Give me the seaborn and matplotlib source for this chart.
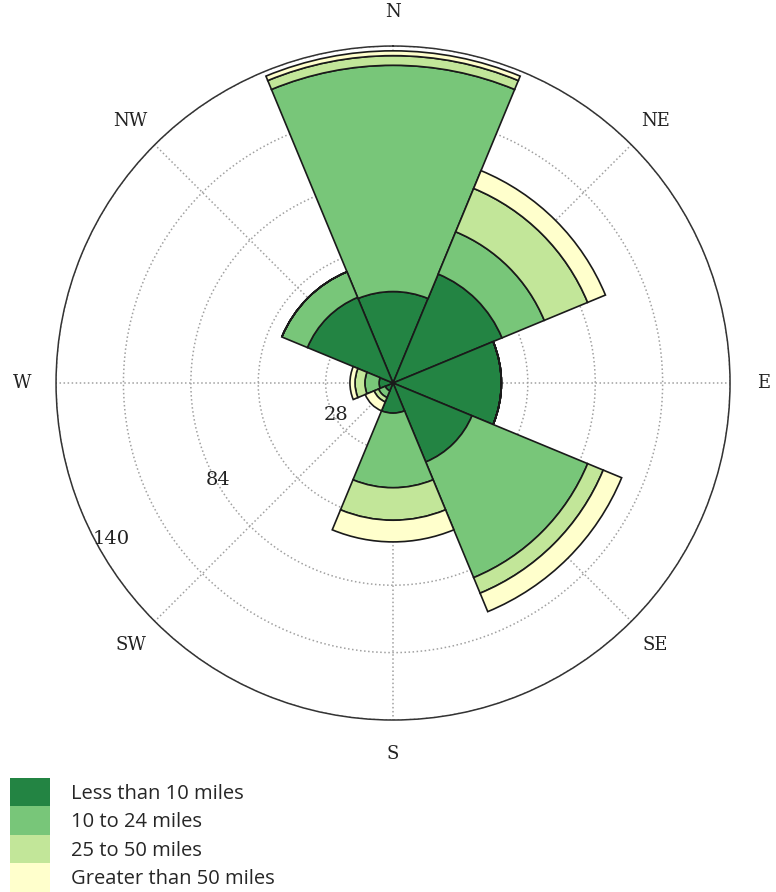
import numpy as np
import matplotlib
matplotlib.use('Agg')
import matplotlib.pyplot as plt
import seaborn as sns
from matplotlib.patches import Patch

# wind rose values (stack order: inner -> outer)
directions = ['N', 'NE', 'E', 'SE', 'S', 'SW', 'W', 'NW']
less_10 = [38, 49, 45, 35.5, 12.5, 3.5, 5.8, 38.5]
from_10_24 = [94, 19, 0, 52, 31, 3, 5.9, 11.5]
from_25_50 = [4, 19.5, 0, 7, 13.5, 2, 4.1, 0]
over_50 = [2, 8, 0, 8.3, 9, 4, 2.1, 0]
series_names = ['Less than 10 miles', '10 to 24 miles', '25 to 50 miles', 'Greater than 50 miles']
r_ticks = [28, 56, 84, 112, 140]
r_labelled = [28, 84, 140]

sns.set_style('white')
colors = sns.color_palette(['#238443', '#78c679', '#c2e699', '#ffffcc'])

fig = plt.figure(figsize=(7.76, 8.92), dpi=100)
ax = fig.add_axes([0.0722, 0.1928, 0.8686, 0.7556], projection='polar')
ax.set_theta_zero_location('N')
ax.set_theta_direction(-1)

theta = np.deg2rad(np.arange(len(directions)) * 45)
width = np.deg2rad(45)
bottom = np.zeros(len(directions))
for vals, col, name in zip([less_10, from_10_24, from_25_50, over_50], colors, series_names):
    vals = np.array(vals, dtype=float)
    ax.bar(theta, vals, width=width, bottom=bottom, color=col, edgecolor='#1a1a1a',
           linewidth=1.2, label=name, zorder=2)
    bottom += vals

ax.set_ylim(0, 140)
ax.set_yticks(r_ticks)
ax.set_yticklabels([])
# radial labels along the lower-left direction
for r in r_labelled:
    ax.text(np.deg2rad(241), r - (6 if r == 140 else 1), str(r), ha='center', va='center',
            family='DejaVu Serif', fontsize=14, color='#222222', zorder=5)
ax.set_xticks(theta)
ax.set_xticklabels(directions, family='DejaVu Serif', fontsize=13, color='#222222')
ax.tick_params(axis='x', pad=14)
ax.grid(True, linestyle=':', color='#a0a0a0', linewidth=1.1)
for gl in ax.get_xgridlines() + ax.get_ygridlines():
    gl.set_zorder(3)
ax.spines['polar'].set_color('#333333')
ax.spines['polar'].set_linewidth(1.1)

handles = [Patch(facecolor=c, edgecolor='none') for c in colors]
fig.legend(handles, series_names, loc='upper left', bbox_to_anchor=(0.013, 0.128),
           frameon=False, handlelength=2.0, handleheight=1.8, handletextpad=1.0,
           labelspacing=0.0, borderaxespad=0, borderpad=0,
           prop={'family': 'Open Sans', 'size': 14.5})

fig.savefig('out.png', dpi=100)
